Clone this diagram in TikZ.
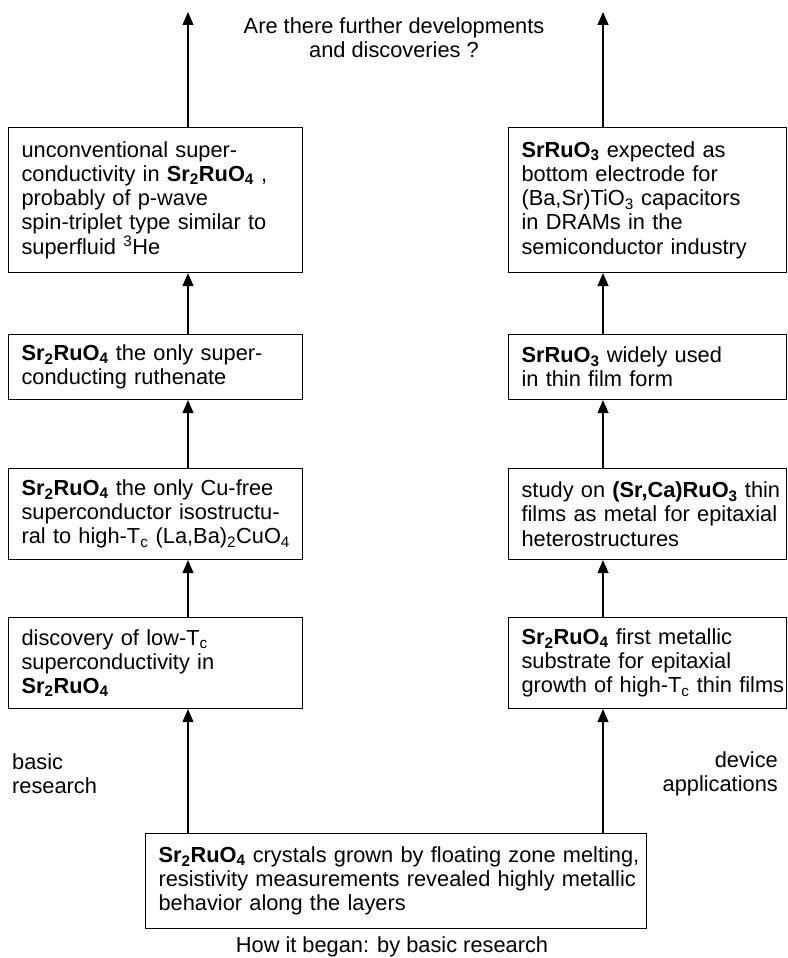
\documentclass[tikz,border=0pt]{standalone}
\usepackage{fontspec}
\setmainfont{Liberation Sans}
\usetikzlibrary{arrows.meta}
\newcommand{\sbs}[1]{\textsubscript{#1}}
\newcommand{\tl}[1]{\mbox{#1}}
\begin{document}
\begin{tikzpicture}[x=1pt,y=-1pt,
  font=\fontsize{21.8}{24.2}\selectfont,
  box/.style={draw, line width=1.1pt, inner xsep=13pt, inner ysep=0pt, align=left, anchor=north west},
  lbox/.style={box, text width=268pt},
  rbox/.style={box, text width=252pt},
  arr/.style={-{Triangle[width=11pt,length=13pt]}, line width=1.1pt},
  plain/.style={inner sep=0pt}]
\useasboundingbox (0,0) rectangle (787,958);
% left column
\node[lbox, minimum height=145pt] (l1) at (8,127) {\tl{unconventional super-}\\\tl{conductivity in \textbf{Sr\sbs{2}RuO\sbs{4}} ,}\\\tl{probably of p-wave}\\\tl{spin-triplet type similar to}\\\tl{superfluid \textsuperscript{3}He}};
\node[lbox, minimum height=65pt] (l2) at (8,334) {\tl{\textbf{Sr\sbs{2}RuO\sbs{4}} the only super-}\\\tl{conducting ruthenate}};
\node[lbox, minimum height=91pt] (l3) at (8,468) {\tl{\textbf{Sr\sbs{2}RuO\sbs{4}} the only Cu-free}\\\tl{superconductor isostructu-}\\\tl{ral to high-T\sbs{c} (La,Ba)\sbs{2}CuO\sbs{4}}};
\node[lbox, minimum height=91pt] (l4) at (8,617) {\tl{discovery of low-T\sbs{c}}\\\tl{superconductivity in}\\\tl{\textbf{Sr\sbs{2}RuO\sbs{4}}}};
% right column
\node[rbox, minimum height=145pt] (r1) at (508,127) {\tl{\textbf{SrRuO\sbs{3}} expected as}\\\tl{bottom electrode for}\\\tl{(Ba,Sr)TiO\sbs{3} capacitors}\\\tl{in DRAMs in the}\\\tl{semiconductor industry}};
\node[rbox, minimum height=65pt] (r2) at (508,334) {\tl{\textbf{SrRuO\sbs{3}} widely used}\\\tl{in thin film form}};
\node[rbox, minimum height=91pt] (r3) at (508,468) {\tl{study on \textbf{(Sr,Ca)RuO\sbs{3}} thin}\\\tl{films as metal for epitaxial}\\\tl{heterostructures}};
\node[rbox, minimum height=91pt] (r4) at (508,617) {\tl{\textbf{Sr\sbs{2}RuO\sbs{4}} first metallic}\\\tl{substrate for epitaxial}\\\tl{growth of high-T\sbs{c} thin films}};
% bottom
\node[box, text width=475pt, minimum height=95pt] (b) at (145,833) {\tl{\textbf{Sr\sbs{2}RuO\sbs{4}} crystals grown by floating zone melting,}\\\tl{resistivity measurements revealed highly metallic}\\\tl{behavior along the layers}};
% labels
\node[plain, align=center] (q) at (394,38) {Are there further developments\\and discoveries ?};
\node[plain, align=left, anchor=west] (br) at (12,774) {basic\\research};
\node[plain, align=right, anchor=east] (da) at (778,774) {device\\applications};
\node[plain] (hb) at (392,947) {How it began: by basic research};
% arrow coordinates
\coordinate (ax) at (188,0);
\coordinate (bx) at (603,0);
\coordinate (lt) at (188,12);
\coordinate (rt) at (603,12);
% arrows left
\draw[arr] (b.north -| ax) -- (l4.south -| ax);
\draw[arr] (l4.north -| ax) -- (l3.south -| ax);
\draw[arr] (l3.north -| ax) -- (l2.south -| ax);
\draw[arr] (l2.north -| ax) -- (l1.south -| ax);
\draw[arr] (l1.north -| ax) -- (lt);
% arrows right
\draw[arr] (b.north -| bx) -- (r4.south -| bx);
\draw[arr] (r4.north -| bx) -- (r3.south -| bx);
\draw[arr] (r3.north -| bx) -- (r2.south -| bx);
\draw[arr] (r2.north -| bx) -- (r1.south -| bx);
\draw[arr] (r1.north -| bx) -- (rt);
\end{tikzpicture}
\end{document}
